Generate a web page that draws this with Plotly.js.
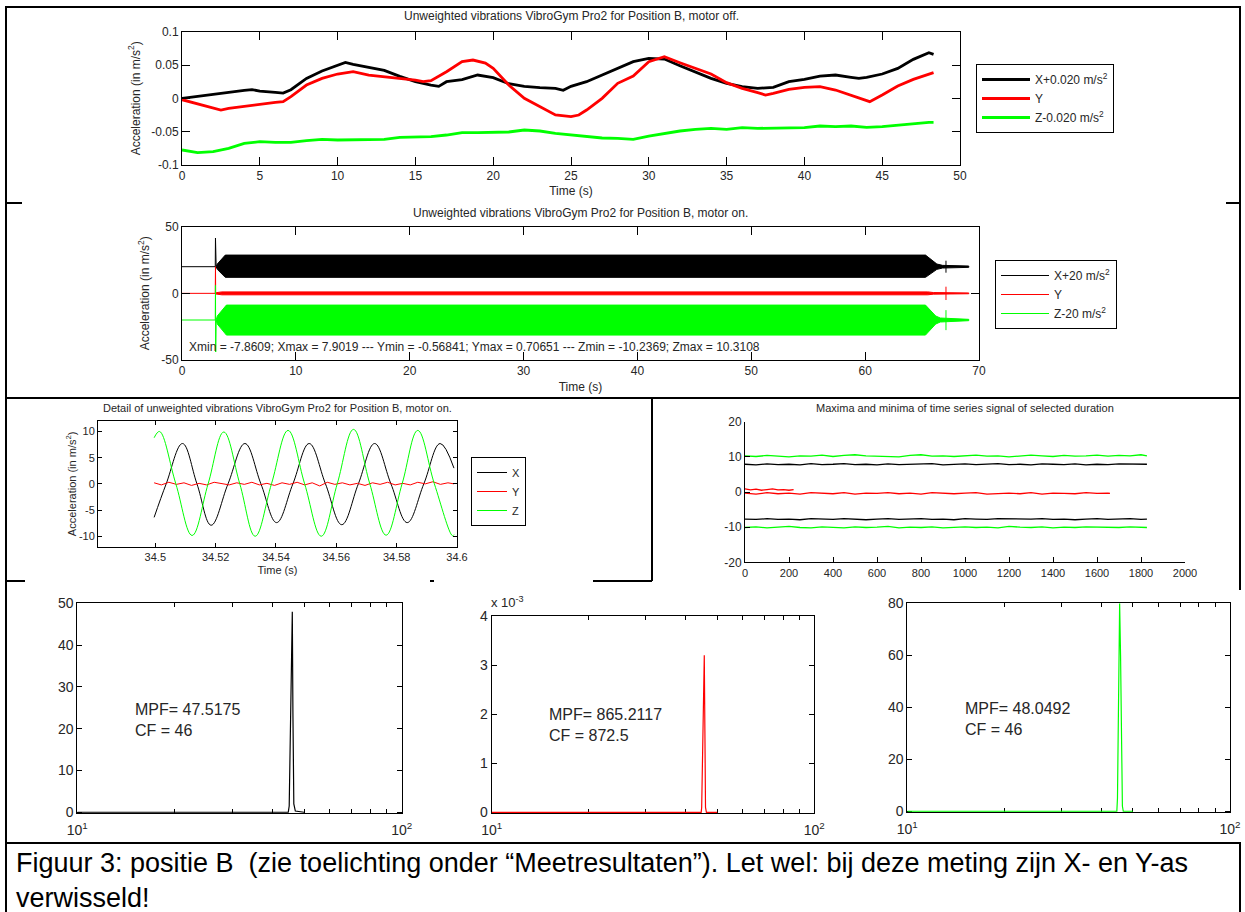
<!DOCTYPE html>
<html><head><meta charset="utf-8">
<script src="https://cdn.plot.ly/plotly-3.0.1.min.js"></script>
<style>html,body{margin:0;padding:0;background:#fff;}#chart{width:1245px;height:912px;}</style>
</head><body><div id="chart"></div>
<script>
// ---------- Panel 1: motor off ----------
const offTimeX = [0,1,2,3,4,4.5,5,6,6.5,7,8,9,10,10.5,11,12,13,14,15,16,16.5,17,18,19,20,21,22,23,24,24.5,25,26,27,28,29,30,31,32,33,34,35,36,37,38,39,40,41,42,43,43.5,44,45,46,47,48,48.3];
const offX = [0,0.003,0.006,0.010,0.012,0.013,0.011,0.009,0.008,0.013,0.030,0.041,0.049,0.054,0.051,0.047,0.042,0.033,0.025,0.020,0.018,0.025,0.028,0.035,0.031,0.022,0.018,0.016,0.015,0.012,0.018,0.025,0.035,0.045,0.055,0.060,0.059,0.049,0.040,0.030,0.0225,0.0175,0.015,0.0165,0.025,0.0285,0.0335,0.035,0.0315,0.030,0.0315,0.0365,0.045,0.0585,0.0685,0.066];
const offTimeY = [0,1,2,2.5,3,4,5,6,6.5,7,8,9,10,11,12,13,14,15,15.5,16,17,18,18.7,19.5,20,21,22,23,24,25,25.5,26,27,28,29,30,31,32,33,34,35,36,37,37.5,38,39,40,41,42,43,44,44.2,45,46,47,48,48.3];
const offY = [-0.002,-0.008,-0.015,-0.0175,-0.015,-0.012,-0.008,-0.006,-0.005,0.0025,0.020,0.030,0.0365,0.040,0.035,0.0325,0.031,0.0275,0.025,0.0265,0.040,0.055,0.0575,0.053,0.045,0.020,0.0,-0.0125,-0.025,-0.0275,-0.025,-0.0175,0.0,0.0225,0.0335,0.055,0.0625,0.0535,0.045,0.0365,0.0235,0.015,0.0085,0.005,0.0075,0.0135,0.0165,0.0175,0.0125,0.005,-0.0025,-0.005,0.005,0.0185,0.0285,0.0365,0.0385];
const offTimeZ = [0,1,2,3,4,5,6,7,8,9,10,11,12,13,14,15,16,17,18,19,20,21,22,23,24,25,26,27,28,29,30,31,32,33,34,35,36,37,38,39,40,41,42,43,44,45,46,47,48,48.3];
const offZ = [-0.0775,-0.0815,-0.080,-0.075,-0.0675,-0.065,-0.066,-0.066,-0.0635,-0.0615,-0.0625,-0.0625,-0.0625,-0.0615,-0.0585,-0.0585,-0.0575,-0.055,-0.0515,-0.0515,-0.0505,-0.0505,-0.0475,-0.049,-0.0525,-0.055,-0.0575,-0.0595,-0.060,-0.0615,-0.0565,-0.0525,-0.049,-0.0465,-0.045,-0.0465,-0.044,-0.045,-0.045,-0.045,-0.044,-0.0415,-0.0425,-0.0415,-0.0435,-0.0425,-0.040,-0.0385,-0.036,-0.036];

// ---------- Panel 2: motor on (envelopes of the dense signal) ----------
const onXTime = [3.0,3.1,3.8,65.3,66.3,66.8,69.1];
const onXUpper = [20,22,28.7,28.7,22,21,20.5];
const onXLower = [20,18,12,12,18,19,19.5];
const onYTime = [3.0,3.5,65.5,66.0,69.1];
const onYUpper = [0.5,1.1,1.1,0.6,0.3];
const onYLower = [-0.5,-1.1,-1.1,-0.6,-0.3];
const onZTime = [3.0,3.1,3.9,65.3,66.2,66.6,69.1];
const onZUpper = [-20,-17,-8.8,-8.8,-17,-18.5,-19.5];
const onZLower = [-20,-23,-31.3,-31.3,-23,-21.5,-20.5];
// idle segments and start/stop spikes
const onLineTime = [0,2.92,2.94,2.96,3.0,null,67.1,67.1];
const onXLine = [20,20,41.5,20,20,null,24.5,15.5];
const onYLine = [0,0,20,-1,0,null,5,-5];
const onZLine = [-20,-20,6,-44,-20,null,-12.6,-27.6];
const onStats = "Xmin = -7.8609; Xmax = 7.9019 --- Ymin = -0.56841; Ymax = 0.70651 --- Zmin = -10.2369; Zmax = 10.3108";

// ---------- Panel 3: detail ----------
const detXTime = [34.4996,34.5036,34.509,34.5138,34.5185,34.5241,34.5297,34.535,34.5402,34.5456,34.551,34.5564,34.5618,34.5673,34.5727,34.5781,34.5835,34.589,34.5944,34.599];
const detX = [-6.4,0,7.7,0,-7.9,0,7.7,0,-7.4,0,7.7,0,-7.8,0,7.7,0,-7.4,0,7.7,3.0];
const detZTime = [34.4996,34.5014,34.5068,34.5122,34.5175,34.5227,34.528,34.5331,34.5385,34.544,34.5495,34.555,34.5603,34.5657,34.5711,34.5765,34.5818,34.587,34.5925,34.5985,34.599];
const detZ = [8.8,10,0,-9.85,0,9.9,0,-10,0,10.2,0,-10,0,10.4,0,-9.8,0,10.2,0,-9.9,-9.7];
const detYTime = [34.4996,34.502,34.5045,34.507,34.5095,34.512,34.5145,34.517,34.5195,34.522,34.5245,34.527,34.5295,34.532,34.5345,34.537,34.5395,34.542,34.5445,34.547,34.5495,34.552,34.5545,34.557,34.5595,34.562,34.5645,34.567,34.5695,34.572,34.5745,34.577,34.5795,34.582,34.5845,34.587,34.5895,34.592,34.5945,34.597,34.599];
const detY = [0.2,-0.2,0.3,-0.1,0.2,-0.3,0.1,-0.2,0.3,0.0,-0.2,0.2,-0.1,0.3,-0.2,0.1,-0.3,0.2,-0.1,0.3,-0.2,0.2,-0.4,0.3,-0.1,0.2,-0.2,0.1,-0.3,0.2,-0.1,0.3,-0.2,0.1,-0.2,0.3,0.0,0.4,-0.1,0.2,0.0];

// ---------- Panel 4: maxima and minima ----------
const mmIndex = [0,50,100,150,200,250,300,350,400,450,500,550,600,650,700,750,800,850,900,950,1000,1050,1100,1150,1200,1250,1300,1350,1400,1450,1500,1550,1600,1650,1700,1750,1800,1827];
const mmZmax = [10.3,10.1,10.4,10.2,10.0,10.3,10.2,10.5,10.1,10.4,10.6,10.3,10.2,10.1,10.0,10.4,10.6,10.2,10.3,10.1,10.4,10.5,10.2,10.3,10.0,10.2,10.5,10.3,10.1,10.4,10.2,10.3,10.5,10.2,10.4,10.3,10.6,10.3];
const mmXmax = [7.9,7.7,8.0,7.8,7.9,7.7,8.1,7.8,7.9,8.1,7.8,7.9,7.7,8.0,7.8,7.9,7.8,8.1,7.7,7.9,8.0,7.8,7.9,8.1,7.8,7.9,7.7,8.0,7.9,7.8,8.0,7.7,7.9,7.8,8.0,7.9,7.8,7.9];
const mmXmin = [-7.7,-7.8,-7.6,-7.8,-7.7,-7.9,-7.6,-7.7,-7.8,-7.6,-7.7,-7.9,-7.7,-7.6,-7.8,-7.7,-7.6,-7.8,-7.7,-7.9,-7.6,-7.7,-7.8,-7.6,-7.7,-7.8,-7.7,-7.6,-7.8,-7.7,-7.9,-7.7,-7.6,-7.8,-7.7,-7.6,-7.8,-7.7];
const mmZmin = [-10.1,-9.9,-10.2,-10.0,-9.8,-10.1,-10.2,-9.9,-10.0,-10.2,-9.9,-10.1,-10.0,-9.8,-10.2,-10.0,-10.1,-9.9,-10.2,-10.0,-9.9,-10.1,-10.0,-10.2,-9.8,-10.0,-10.1,-9.9,-10.2,-10.0,-10.1,-9.9,-10.0,-10.2,-10.1,-9.9,-10.0,-10.1];
const mmYminIndex = [0,50,100,150,200,250,300,350,400,450,500,550,600,650,700,750,800,850,900,950,1000,1050,1100,1150,1200,1250,1300,1350,1400,1450,1500,1550,1600,1650,1659];
const mmYmin = [-0.3,-0.6,-0.2,-0.5,-0.3,-0.6,-0.2,-0.4,-0.5,-0.2,-0.6,-0.3,-0.4,-0.2,-0.5,-0.3,-0.6,-0.2,-0.4,-0.5,-0.3,-0.2,-0.6,-0.4,-0.3,-0.5,-0.2,-0.6,-0.3,-0.4,-0.5,-0.2,-0.4,-0.3,-0.4];
const mmYmaxIndex = [0,25,50,75,100,125,150,175,200,221];
const mmYmax = [0.9,0.6,0.8,0.5,0.7,0.9,0.6,0.7,0.5,0.7];

// ---------- Panels 5-7: spectra ----------
const specFreqX = [10,20,30,40,44.7,45.0,45.3,45.6,46.0,46.2,46.5,47.0,50];
const specX = [0,0,0,0,0,1.5,15,37,48,24,2,0.3,0];
const specFreqY = [10,20,30,40,44.6,44.76,44.98,45.29,45.6,45.8,46.0,46.3,50];
const specY = [0,0,0,0,0,0.0001,0.00095,0.00245,0.0032,0.00165,0.0001,0,0];
const specFreqZ = [10,20,30,40,44.6,44.8,45.1,45.5,45.8,46.1,46.4,46.7,50];
const specZ = [0,0,0,0,0,5,43,80,60,21,2,0,0];
const specText = ["MPF= 47.5175<br>CF = 46","MPF= 865.2117<br>CF = 872.5","MPF= 48.0492<br>CF = 46"];
const logTickVals = [10,20,30,40,50,60,70,80,90,100];
const logTickText = ['10<sup>1</sup>','','','','','','','','','10<sup>2</sup>'];

const caption1 = "Figuur 3: positie B  (zie toelichting onder \u201cMeetresultaten\u201d). Let wel: bij deze meting zijn X- en Y-as";
const caption2 = "verwisseld!";

// ---------- layout helpers ----------
const W = 1245, H = 912;
const FONT = 'Liberation Sans, Arial, sans-serif';
const px = v => v / W;
const py = v => 1 - v / H;
const BLK = '#000000', RED = '#ff0000', GRN = '#00ff00', TXT = '#262626';

function ax(extra){
  return Object.assign({showline:true, linecolor:BLK, linewidth:1, mirror:'ticks', ticks:'inside',
    ticklen:7, tickcolor:BLK, showgrid:false, zeroline:false, fixedrange:true,
    tickfont:{family:FONT, size:12, color:TXT}}, extra);
}

const traces = [];
// panel 1
traces.push({x:offTimeX, y:offX, name:'X+0.020 m/s<sup>2</sup>', type:'scatter', mode:'lines', line:{color:BLK, width:2.8}, xaxis:'x', yaxis:'y', legend:'legend'});
traces.push({x:offTimeY, y:offY, name:'Y', type:'scatter', mode:'lines', line:{color:RED, width:2.8}, xaxis:'x', yaxis:'y', legend:'legend'});
traces.push({x:offTimeZ, y:offZ, name:'Z-0.020 m/s<sup>2</sup>', type:'scatter', mode:'lines', line:{color:GRN, width:2.8}, xaxis:'x', yaxis:'y', legend:'legend'});
// panel 2
function band(t, up, lo, color){
  return {x: t.concat(t.slice().reverse()), y: up.concat(lo.slice().reverse()), type:'scatter', mode:'lines',
    fill:'toself', fillcolor:color, line:{color:color, width:1}, showlegend:false, xaxis:'x2', yaxis:'y2', hoverinfo:'skip'};
}
traces.push({x:onLineTime, y:onXLine, name:'X+20 m/s<sup>2</sup>', type:'scatter', mode:'lines', line:{color:BLK, width:1}, xaxis:'x2', yaxis:'y2', legend:'legend2'});
traces.push({x:onLineTime, y:onYLine, name:'Y', type:'scatter', mode:'lines', line:{color:RED, width:1}, xaxis:'x2', yaxis:'y2', legend:'legend2'});
traces.push({x:onLineTime, y:onZLine, name:'Z-20 m/s<sup>2</sup>', type:'scatter', mode:'lines', line:{color:GRN, width:1}, xaxis:'x2', yaxis:'y2', legend:'legend2'});
traces.push(band(onXTime, onXUpper, onXLower, BLK));
traces.push(band(onYTime, onYUpper, onYLower, RED));
traces.push(band(onZTime, onZUpper, onZLower, GRN));
// panel 3
traces.push({x:detXTime, y:detX, name:'X', type:'scatter', mode:'lines', line:{color:BLK, width:1, shape:'spline', smoothing:1.1}, xaxis:'x3', yaxis:'y3', legend:'legend3'});
traces.push({x:detYTime, y:detY, name:'Y', type:'scatter', mode:'lines', line:{color:RED, width:1}, xaxis:'x3', yaxis:'y3', legend:'legend3'});
traces.push({x:detZTime, y:detZ, name:'Z', type:'scatter', mode:'lines', line:{color:GRN, width:1, shape:'spline', smoothing:1.1}, xaxis:'x3', yaxis:'y3', legend:'legend3'});
// panel 4
[[mmIndex, mmZmax, GRN],[mmIndex, mmXmax, BLK],[mmYmaxIndex, mmYmax, RED],[mmYminIndex, mmYmin, RED],[mmIndex, mmXmin, BLK],[mmIndex, mmZmin, GRN]].forEach(s => {
  traces.push({x:s[0], y:s[1], type:'scatter', mode:'lines', line:{color:s[2], width:1.3}, showlegend:false, xaxis:'x4', yaxis:'y4'});
});
// spectra
traces.push({x:specFreqX, y:specX, type:'scatter', mode:'lines', line:{color:BLK, width:1.2}, showlegend:false, xaxis:'x5', yaxis:'y5'});
traces.push({x:specFreqY, y:specY, type:'scatter', mode:'lines', line:{color:RED, width:1.2}, showlegend:false, xaxis:'x6', yaxis:'y6'});
traces.push({x:specFreqZ, y:specZ, type:'scatter', mode:'lines', line:{color:GRN, width:1.2}, showlegend:false, xaxis:'x7', yaxis:'y7'});

const yTitle = (size, standoff) => ({text:'Acceleration (in m/s<sup>2</sup>)', font:{family:FONT, size:size, color:TXT}, standoff:standoff});
const xTitle = (size, standoff) => ({text:'Time (s)', font:{family:FONT, size:size, color:TXT}, standoff:standoff});
const logX = (d0, d1, anchor) => ax({domain:[px(d0), px(d1)], anchor:anchor, type:'log', range:[1,2], tickmode:'array', tickvals:logTickVals,
  ticktext:logTickText, ticklen:4, ticklabelstandoff:4, layer:'below traces', tickfont:{family:FONT, size:14, color:TXT}});

const legendBase = {bordercolor:BLK, borderwidth:1, bgcolor:'#ffffff', xanchor:'left', yanchor:'top', font:{family:FONT, size:12, color:TXT}, tracegroupgap:0};

const layout = {
  width:W, height:H, margin:{l:0, r:0, t:0, b:0}, paper_bgcolor:'#ffffff', plot_bgcolor:'#ffffff',
  font:{family:FONT, size:12, color:TXT},
  showlegend:true,
  legend: Object.assign({}, legendBase, {x:px(976), y:py(64), itemwidth:48}),
  legend2: Object.assign({}, legendBase, {x:px(995), y:py(260), itemwidth:48}),
  legend3: Object.assign({}, legendBase, {x:px(471), y:py(457), font:{family:FONT, size:11, color:TXT}}),
  xaxis: ax({domain:[px(182), px(960)], anchor:'y', range:[0,50], dtick:5, ticklen:8, title:xTitle(12, 4)}),
  yaxis: ax({domain:[py(165), py(31.7)], anchor:'x', range:[-0.1,0.1], tickmode:'array', tickvals:[-0.1,-0.05,0,0.05,0.1], ticktext:['-0.1','-0.05','0','0.05','0.1'], ticklen:8, title:yTitle(12, 8)}),
  xaxis2: ax({domain:[px(182), px(979)], anchor:'y2', range:[0,70], dtick:10, ticklen:8, title:xTitle(12, 5)}),
  yaxis2: ax({domain:[py(360), py(226.7)], anchor:'x2', range:[-50,50], tickmode:'array', tickvals:[-50,0,50], ticktext:['-50','0','50'], ticklen:8, title:yTitle(12, 9)}),
  xaxis3: ax({domain:[px(98), px(457)], anchor:'y3', range:[34.481,34.6], tickmode:'array', tickvals:[34.5,34.52,34.54,34.56,34.58,34.6], ticktext:['34.5','34.52','34.54','34.56','34.58','34.6'], ticklen:4, tickfont:{family:FONT, size:11, color:TXT}, title:xTitle(11, 4)}),
  yaxis3: ax({domain:[py(546.7), py(421)], anchor:'x3', range:[-12,12], tickmode:'array', tickvals:[-10,-5,0,5,10], ticktext:['-10','-5','0','5','10'], ticklen:4, tickfont:{family:FONT, size:11, color:TXT}, title:yTitle(11, 0)}),
  xaxis4: ax({domain:[px(745), px(1185)], anchor:'y4', range:[0,2000], dtick:200, ticklen:5, mirror:false, tickfont:{family:FONT, size:11, color:TXT}}),
  yaxis4: ax({domain:[py(562.3), py(421.7)], anchor:'x4', range:[-20,20], tickmode:'array', tickvals:[-20,-10,0,10,20], ticktext:['-20','-10','0','10','20'], ticklen:5, mirror:false, tickfont:{family:FONT, size:12, color:TXT}}),
  xaxis5: logX(77.3, 401.7, 'y5'),
  yaxis5: ax({domain:[py(813.3), py(603.3)], anchor:'x5', range:[-0.25,50], tickmode:'array', tickvals:[0,10,20,30,40,50], ticklen:5, layer:'below traces', tickfont:{family:FONT, size:14, color:TXT}}),
  xaxis6: logX(491.7, 814.3, 'y6'),
  yaxis6: ax({domain:[py(813.3), py(616)], anchor:'x6', range:[-0.00002,0.004], tickmode:'array', tickvals:[0,0.001,0.002,0.003,0.004], ticktext:['0','1','2','3','4'], ticklen:5, layer:'below traces', tickfont:{family:FONT, size:14, color:TXT}}),
  xaxis7: logX(907.3, 1230, 'y7'),
  yaxis7: ax({domain:[py(812.3), py(603.3)], anchor:'x7', range:[-0.4,80], tickmode:'array', tickvals:[0,20,40,60,80], ticklen:5, layer:'below traces', tickfont:{family:FONT, size:14, color:TXT}}),
  annotations: [],
  shapes: []
};

const ann = (text, x, y, size, xanchor, yanchor, extra) => Object.assign({text:text, x:x, y:y, xref:'paper', yref:'paper', showarrow:false,
  xanchor:xanchor||'center', yanchor:yanchor||'middle', font:{family:FONT, size:size, color:TXT}}, extra||{});
layout.annotations.push(ann('Unweighted vibrations VibroGym Pro2 for Position B, motor off.', px(571), py(15.7), 12));
layout.annotations.push(ann('Unweighted vibrations VibroGym Pro2 for Position B, motor on.', px(580.5), py(212.7), 12));
layout.annotations.push(ann('Detail of unweighted vibrations VibroGym Pro2 for Position B, motor on.', px(277.5), py(408), 11));
layout.annotations.push(ann('Maxima and minima of time series signal of selected duration', px(965), py(408), 11));
layout.annotations.push({text:onStats, x:0.4, y:-40, xref:'x2', yref:'y2', showarrow:false, xanchor:'left', yanchor:'middle', font:{family:FONT, size:12, color:TXT}});
layout.annotations.push(ann(specText[0], px(133), py(720), 16, 'left', 'middle', {align:'left'}));
layout.annotations.push(ann(specText[1], px(546.7), py(725), 16, 'left', 'middle', {align:'left'}));
layout.annotations.push(ann(specText[2], px(962.7), py(718.5), 16, 'left', 'middle', {align:'left'}));
layout.annotations.push(ann('x 10<sup>-3</sup>', px(489), py(602), 13, 'left', 'middle'));
layout.annotations.push(ann(caption1, px(14), py(863), 27, 'left', 'middle', {font:{family:FONT, size:27, color:'#000'}}));
layout.annotations.push(ann(caption2, px(14), py(898), 27, 'left', 'middle', {font:{family:FONT, size:27, color:'#000'}}));

// document frame lines (page layout, in pixels)
const frameSegs = [[5,7,1241,7],[6,7,6,912],[1240,7,1240,590],[1240,843,1240,912],
  [5,203,22,203],[1226,203,1241,203],[5,398,1241,398],[652,398,652,581],
  [5,581,25,581],[430,581,434,581],[593,581,652,581],[5,843,1241,843]];
frameSegs.forEach(s => layout.shapes.push({type:'line', xref:'paper', yref:'paper', x0:px(s[0]), y0:py(s[1]), x1:px(s[2]), y1:py(s[3]), line:{color:BLK, width:2}}));

Plotly.newPlot('chart', traces, layout, {displayModeBar:false, staticPlot:true});
</script></body></html>
